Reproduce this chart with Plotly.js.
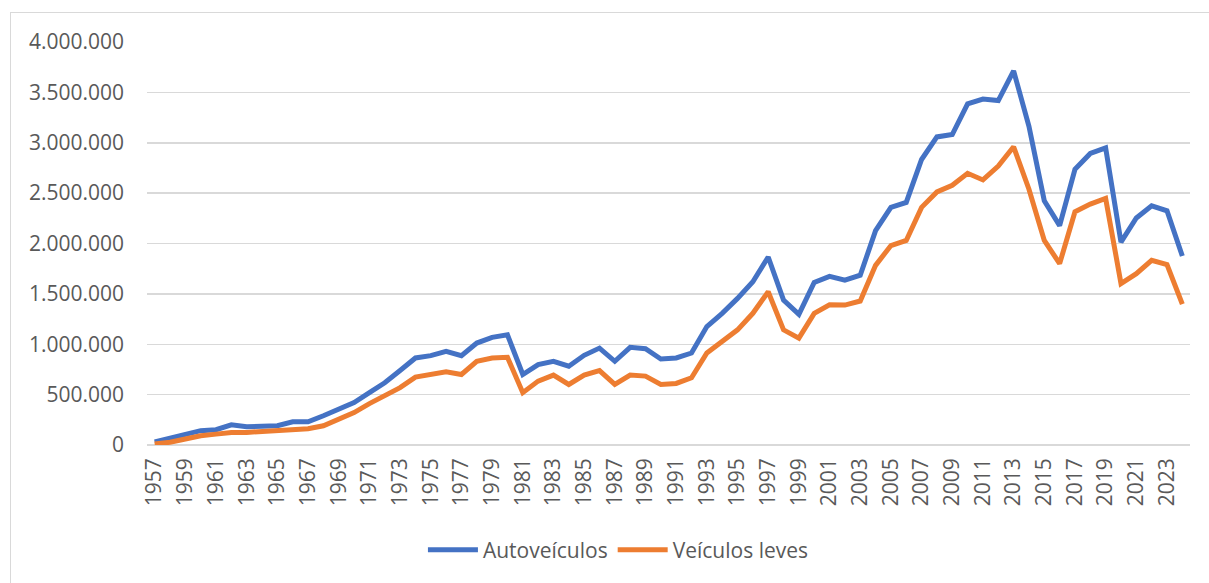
<!DOCTYPE html>
<html>
<head>
<meta charset="utf-8">
<script src="https://cdn.plot.ly/plotly-3.0.1.min.js"></script>
<style>
  html, body { margin: 0; padding: 0; background: #ffffff; overflow: hidden; }
  #frame { position: absolute; left: 10px; top: 12px; width: 1230px; height: 620px; border: 1px solid #d9d9d9; box-sizing: border-box; }
  #chart { position: absolute; left: 0; top: 0; width: 1209px; height: 583px; }
</style>
</head>
<body>
<div id="frame"></div>
<div id="chart"></div>
<script>
const years = [];
for (let y = 1957; y <= 2024; y++) years.push(y);

const autoveiculos = [
  30000, 69000, 108000, 142000, 152000, 201000, 181000, 191000, 191000, 230000,
  230000, 290000, 362000, 421000, 519000, 618000, 739000, 864000, 887000, 930000,
  887000, 1012000, 1068000, 1094000, 700000, 798000, 831000, 782000, 890000, 962000,
  831000, 969000, 956000, 854000, 864000, 913000, 1176000, 1307000, 1455000, 1620000,
  1866000, 1438000, 1297000, 1613000, 1674000, 1636000, 1685000, 2128000, 2359000, 2408000,
  2834000, 3058000, 3081000, 3386000, 3433000, 3419000, 3714000, 3163000, 2424000, 2177000,
  2736000, 2894000, 2950000, 2014000, 2253000, 2374000, 2325000, 1876000
];

const veiculosLeves = [
  10000, 27000, 59000, 92000, 108000, 125000, 125000, 135000, 142000, 161000,
  161000, 191000, 256000, 322000, 411000, 487000, 569000, 674000, 694000, 726000,
  700000, 831000, 864000, 871000, 519000, 634000, 694000, 601000, 694000, 739000,
  601000, 694000, 684000, 601000, 611000, 667000, 913000, 1028000, 1143000, 1307000,
  1521000, 1143000, 1061000, 1307000, 1392000, 1389000, 1429000, 1783000, 1980000, 2030000,
  2359000, 2512000, 2578000, 2697000, 2631000, 2768000, 2960000, 2539000, 2030000, 1800000,
  2315000, 2391000, 2447000, 1603000, 1701000, 1833000, 1790000, 1399000
];

const seriesNames = ["Autoveículos", "Veículos leves"];
const seriesColors = ["#4472C4", "#ED7D31"];

const traces = [
  { x: years, y: autoveiculos, name: seriesNames[0], type: "scatter", mode: "lines",
    line: { color: seriesColors[0], width: 5, shape: "linear" } },
  { x: years, y: veiculosLeves, name: seriesNames[1], type: "scatter", mode: "lines",
    line: { color: seriesColors[1], width: 5, shape: "linear" } }
];

const layout = {
  width: 1209, height: 583,
  paper_bgcolor: "rgba(0,0,0,0)",
  plot_bgcolor: "rgba(0,0,0,0)",
  separators: ",.",
  margin: { l: 147, r: 19, t: 42, b: 135, pad: 0 },
  font: { family: "Open Sans, Liberation Sans, sans-serif", color: "#595959", size: 21 },
  xaxis: {
    type: "linear",
    range: [1956.5, 2024.5],
    tick0: 1957, dtick: 2,
    tickformat: "d",
    tickangle: -90,
    showgrid: false,
    zeroline: false,
    showline: false,
    ticks: "",
    ticklabelstandoff: 8,
    tickfont: { size: 21, color: "#595959" },
    fixedrange: true
  },
  yaxis: {
    range: [0, 4000000],
    dtick: 500000,
    tickformat: ",d",
    showgrid: true,
    gridcolor: "#d9d9d9",
    gridwidth: 1.5,
    zeroline: true,
    zerolinecolor: "#d9d9d9",
    zerolinewidth: 1.5,
    showline: false,
    ticks: "",
    ticklabelstandoff: 22,
    tickfont: { size: 21, color: "#595959" },
    fixedrange: true
  },
  showlegend: true,
  legend: {
    orientation: "h",
    x: 0.452, xanchor: "center",
    y: -0.21, yanchor: "top",
    font: { size: 21, color: "#595959" },
    itemwidth: 50,
    tracegroupgap: 0
  }
};

Plotly.newPlot("chart", traces, layout, { displayModeBar: false, staticPlot: true });
</script>
</body>
</html>
